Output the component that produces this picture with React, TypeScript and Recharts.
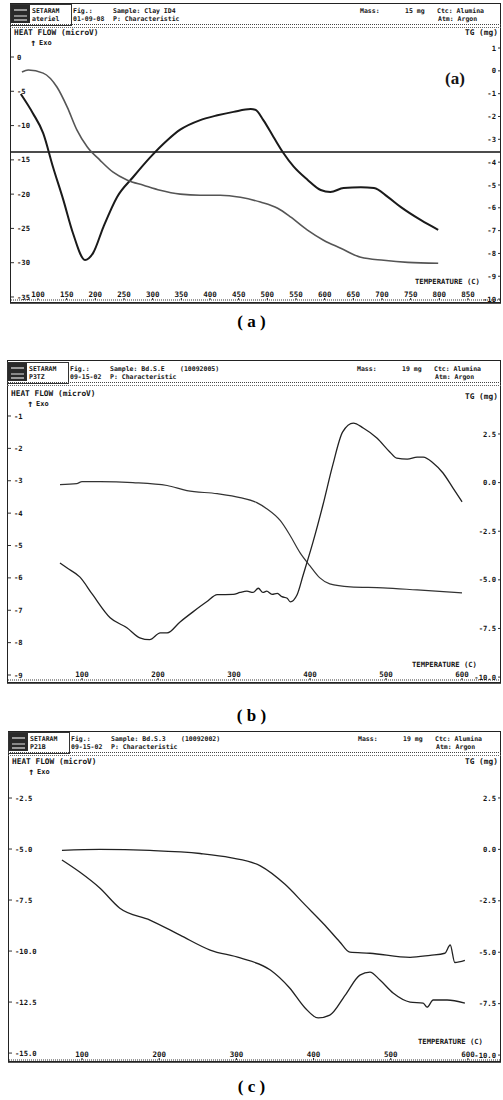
import { LineChart, Line, XAxis, YAxis, ReferenceLine } from "recharts";

const MONO = "'DejaVu Sans Mono', 'Liberation Mono', monospace";
const SERIF = "'Liberation Serif', 'DejaVu Serif', serif";

// ---- (a) Clay ID4 ----
const aTempTicks = [100, 150, 200, 250, 300, 350, 400, 450, 500, 550, 600, 650, 700, 750, 800, 850];
const aHfTicks = [0, -5, -10, -15, -20, -25, -30, -35];
const aTgTicks = [1, 0, -1, -2, -3, -4, -5, -6, -7, -8, -9, -10];
const aHfTemp = [70, 91, 109, 126, 144, 161, 182, 196, 214, 238, 266, 296, 326, 348, 383, 413, 441, 471, 479, 493, 511, 528, 546, 570, 593, 610, 633, 663, 686, 710, 733, 768, 798];
const aHf = [-5.4, -8.2, -11.1, -16.0, -20.8, -25.7, -29.6, -28.6, -24.8, -20.4, -17.5, -14.6, -12.1, -10.6, -9.2, -8.5, -8.0, -7.6, -7.7, -9.2, -11.7, -14.0, -16.0, -17.9, -19.4, -19.7, -19.1, -19.0, -19.1, -20.4, -21.9, -23.8, -25.2];
const aTgTemp = [72, 83, 109, 133, 151, 168, 186, 208, 231, 256, 284, 313, 348, 383, 418, 453, 488, 518, 541, 570, 598, 628, 663, 703, 745, 798];
const aTg = [-0.05, 0.04, -0.1, -0.71, -1.59, -2.6, -3.34, -3.91, -4.44, -4.79, -5.01, -5.23, -5.4, -5.45, -5.45, -5.54, -5.75, -6.02, -6.41, -6.98, -7.42, -7.77, -8.17, -8.3, -8.39, -8.43];
const aBaseline = -13.85;

// ---- (b) Bd.S.E ----
const bTempTicks = [100, 200, 300, 400, 500, 600];
const bHfTicks = [-1, -2, -3, -4, -5, -6, -7, -8, -9];
const bTgTicks = [2.5, 0, -2.5, -5, -7.5, -10];
const bHfTemp = [71, 80, 97, 114, 137, 159, 176, 189, 203, 212, 229, 246, 264, 278, 299, 308, 317, 325, 332, 338, 343, 350, 357, 363, 370, 374, 383, 391, 404, 417, 430, 443, 457, 470, 488, 505, 514, 528, 541, 549, 562, 575, 588, 600];
const bHf = [-5.54, -5.69, -5.97, -6.52, -7.23, -7.54, -7.85, -7.91, -7.7, -7.7, -7.36, -7.05, -6.74, -6.52, -6.51, -6.45, -6.41, -6.45, -6.32, -6.45, -6.41, -6.51, -6.48, -6.58, -6.63, -6.74, -6.52, -5.91, -4.89, -3.75, -2.51, -1.49, -1.22, -1.37, -1.68, -2.11, -2.3, -2.33, -2.27, -2.27, -2.45, -2.76, -3.22, -3.65];
const bTgTemp = [71, 93, 100, 124, 167, 212, 238, 278, 308, 330, 343, 361, 374, 387, 400, 413, 426, 453, 496, 541, 600];
const bTg = [-0.1, -0.05, 0.05, 0.05, 0.0, -0.15, -0.41, -0.57, -0.77, -1.03, -1.34, -1.96, -2.73, -3.61, -4.28, -4.9, -5.21, -5.36, -5.41, -5.52, -5.67];

// ---- (c) Bd.S.3 ----
const cTempTicks = [100, 200, 300, 400, 500, 600];
const cHfTicks = [-2.5, -5, -7.5, -10, -12.5, -15];
const cTgTicks = [2.5, 0, -2.5, -5, -7.5, -10];
const cHfTemp = [74, 97, 123, 149, 188, 227, 266, 305, 344, 369, 389, 406, 421, 441, 460, 473, 486, 503, 525, 542, 547, 555, 573, 596];
const cHf = [-5.54, -6.13, -6.91, -7.9, -8.48, -9.22, -9.95, -10.34, -10.93, -11.81, -12.79, -13.28, -13.14, -12.16, -11.18, -11.03, -11.42, -12.06, -12.5, -12.55, -12.75, -12.4, -12.4, -12.55];
const cTgTemp = [74, 123, 188, 253, 292, 331, 363, 389, 415, 434, 447, 473, 525, 551, 570, 577, 583, 596];
const cTg = [-0.05, 0.0, -0.05, -0.2, -0.4, -0.8, -1.7, -2.7, -3.7, -4.5, -5.0, -5.05, -5.25, -5.15, -5.05, -4.65, -5.5, -5.4];

type Pt = { t: number; v: number };
const zip = (t: number[], v: number[]): Pt[] => t.map((x, i) => ({ t: x, v: v[i] }));

function Txt({ x, y, size = 6.5, children, family = MONO, weight = 700 }: any) {
  return (
    <div
      style={{
        position: "absolute",
        left: x,
        top: y - size / 2,
        fontSize: size,
        lineHeight: `${size}px`,
        fontFamily: family,
        fontWeight: weight,
        color: "#151515",
        whiteSpace: "nowrap",
      }}
    >
      {children}
    </div>
  );
}

function Header({ top, left, right, row2a, date, sample, code, mass }: any) {
  const r1 = top + 8;
  const r2 = top + 16;
  return (
    <>
      <div style={{ position: "absolute", left, top: top + 1, width: 60, height: 20, border: "1px solid #333" }} />
      <div style={{ position: "absolute", left: left + 1, top: top + 2, width: 19, height: 18, background: "#2a2a2a" }}>
        <div style={{ margin: "4px 3px", height: 2, background: "#999" }} />
        <div style={{ margin: "2px 3px", height: 2, background: "#888" }} />
        <div style={{ margin: "2px 3px", height: 2, background: "#999" }} />
      </div>
      <Txt x={left + 22} y={r1}>SETARAM</Txt>
      <Txt x={left + 22} y={r2}>{row2a}</Txt>
      <Txt x={left + 63} y={r1}>Fig.:</Txt>
      <Txt x={left + 63} y={r2}>{date}</Txt>
      <Txt x={left + 103} y={r1}>{sample}</Txt>
      {code && <Txt x={left + 173} y={r1}>{code}</Txt>}
      <Txt x={left + 103} y={r2}>P: Characteristic</Txt>
      <Txt x={360 + (left - 10)} y={r1}>Mass:</Txt>
      <Txt x={405 + (left - 10)} y={r1}>{mass}</Txt>
      <Txt x={437 + (left - 10)} y={r1}>Ctc: Alumina</Txt>
      <Txt x={438 + (left - 10)} y={r2}>Atm: Argon</Txt>
      <div style={{ position: "absolute", left, width: right - left, top: top + 21, borderTop: "1px dotted #444" }} />
      <div style={{ position: "absolute", left, width: right - left, top: top + 24, borderTop: "1px dotted #666" }} />
    </>
  );
}

function Plot({ plotTop, plotBottom, left, right, xDomain, hfDomain, tgDomain, xTicks, hfTicks, tgTicks, hfFmt, tgFmt, hf, tg, hfStyle, tgStyle, baseline }: any) {
  const tick = { fontSize: 7.2, fontFamily: MONO, fontWeight: 700, fill: "#151515" };
  return (
    <div style={{ position: "absolute", left: 0, top: plotTop - 4 }}>
      <LineChart width={503} height={plotBottom - plotTop + 8} margin={{ top: 4, bottom: 4, left, right: 503 - right }}>
        <XAxis
          type="number"
          dataKey="t"
          domain={xDomain}
          ticks={xTicks}
          interval={0}
          allowDataOverflow
          mirror
          tickSize={2}
          tickMargin={1}
          axisLine={{ stroke: "#333", strokeDasharray: "1 1" }}
          tickLine={{ stroke: "#222" }}
          tick={{ ...tick, fontSize: 7.5 }}
        />
        <YAxis
          yAxisId="hf"
          type="number"
          domain={hfDomain}
          ticks={hfTicks}
          interval={0}
          allowDataOverflow
          mirror
          tickSize={3}
          tickMargin={3}
          axisLine={false}
          tickLine={{ stroke: "#333" }}
          tickFormatter={hfFmt}
          tick={tick}
        />
        <YAxis
          yAxisId="tg"
          orientation="right"
          type="number"
          domain={tgDomain}
          ticks={tgTicks}
          interval={0}
          allowDataOverflow
          mirror
          tickSize={2}
          tickMargin={2}
          axisLine={false}
          tickLine={{ stroke: "#333" }}
          tickFormatter={tgFmt}
          tick={tick}
        />
        {baseline !== undefined && <ReferenceLine yAxisId="hf" y={baseline} stroke="#111" strokeWidth={1.6} />}
        <Line yAxisId="hf" data={hf} dataKey="v" type="monotone" stroke={hfStyle.color} strokeWidth={hfStyle.width} dot={false} isAnimationActive={false} />
        <Line yAxisId="tg" data={tg} dataKey="v" type="monotone" stroke={tgStyle.color} strokeWidth={tgStyle.width} dot={false} isAnimationActive={false} />
      </LineChart>
    </div>
  );
}

function Frame({ top, bottom, left, right }: any) {
  return (
    <>
      <div style={{ position: "absolute", left, top, width: right - left, height: bottom - top, border: "1.5px solid #222", boxSizing: "border-box" }} />
      <div style={{ position: "absolute", left, width: right - left, top: bottom, borderTop: "1px solid #555" }} />
    </>
  );
}

function Caption({ y, children }: any) {
  return (
    <div style={{ position: "absolute", left: 0, width: 503, top: y - 9, textAlign: "center", fontFamily: SERIF, fontWeight: 700, fontSize: 17, lineHeight: "18px" }}>
      {children}
    </div>
  );
}

function AxisTitles({ left, right, y, ty, tempY, tempX }: any) {
  return (
    <>
      <Txt x={left + 4} y={y} size={7.8}>HEAT FLOW (microV)</Txt>
      <Txt x={left + 20} y={y + 10} size={10}>↑</Txt>
      <Txt x={left + 29} y={y + 10} size={7}>Exo</Txt>
      <Txt x={right - 36} y={ty} size={7.8}>TG (mg)</Txt>
      <Txt x={tempX} y={tempY} size={7.2}>TEMPERATURE (C)</Txt>
    </>
  );
}

const int = (v: number) => String(v);
const one = (v: number) => v.toFixed(1);

export default function App() {
  return (
    <div style={{ position: "relative", width: 503, height: 1100, background: "#fff", overflow: "hidden" }}>
      <style>{"body{margin:0}"}</style>

      {/* (a) */}
      <Frame top={3} bottom={303} left={10} right={501} />
      <Header top={3} left={10} right={501} row2a="ateriel" date="01-09-08" sample="Sample: Clay ID4" mass="15 mg" />
      <AxisTitles left={10} right={501} y={33} ty={33} tempX={415} tempY={282} />
      <Plot
        plotTop={30}
        plotBottom={300}
        left={11}
        right={500}
        xDomain={[52.9, 905.8]}
        hfDomain={[-35.44, 3.94]}
        tgDomain={[-10.04, 1.79]}
        xTicks={aTempTicks}
        hfTicks={aHfTicks}
        tgTicks={aTgTicks}
        hfFmt={int}
        tgFmt={int}
        hf={zip(aHfTemp, aHf)}
        tg={zip(aTgTemp, aTg)}
        hfStyle={{ color: "#1a1a1a", width: 2 }}
        tgStyle={{ color: "#555", width: 1.6 }}
        baseline={aBaseline}
      />
      <Txt x={445} y={78} size={17} family={SERIF}>(a)</Txt>
      <Caption y={322}>( a )</Caption>

      {/* (b) */}
      <Frame top={360} bottom={683} left={7} right={501} />
      <Header top={361} left={7} right={501} row2a="P3TZ" date="09-15-02" sample="Sample: Bd.S.E" code="(10092005)" mass="19 mg" />
      <AxisTitles left={7} right={501} y={394} ty={397} tempX={412} tempY={665} />
      <Plot
        plotTop={391}
        plotBottom={680}
        left={8}
        right={500}
        xDomain={[2.6, 650]}
        hfDomain={[-9.154, -0.228]}
        tgDomain={[-10.15, 4.71]}
        xTicks={bTempTicks}
        hfTicks={bHfTicks}
        tgTicks={bTgTicks}
        hfFmt={int}
        tgFmt={one}
        hf={zip(bHfTemp, bHf)}
        tg={zip(bTgTemp, bTg)}
        hfStyle={{ color: "#222", width: 1.3 }}
        tgStyle={{ color: "#333", width: 1.2 }}
      />
      <Caption y={716}>( b )</Caption>

      {/* (c) */}
      <Frame top={731} bottom={1062} left={8} right={501} />
      <Header top={731} left={8} right={501} row2a="P21B" date="09-15-02" sample="Sample: Bd.S.3" code="(10092002)" mass="19 mg" />
      <AxisTitles left={8} right={501} y={762} ty={762} tempX={418} tempY={1042} />
      <Plot
        plotTop={756}
        plotBottom={1060}
        left={9}
        right={500}
        xDomain={[5.4, 641.5]}
        hfDomain={[-15.34, -0.44]}
        tgDomain={[-10.24, 4.54]}
        xTicks={cTempTicks}
        hfTicks={cHfTicks}
        tgTicks={cTgTicks}
        hfFmt={one}
        tgFmt={one}
        hf={zip(cHfTemp, cHf)}
        tg={zip(cTgTemp, cTg)}
        hfStyle={{ color: "#222", width: 1.3 }}
        tgStyle={{ color: "#222", width: 1.3 }}
      />
      <Caption y={1087}>( c )</Caption>
    </div>
  );
}
